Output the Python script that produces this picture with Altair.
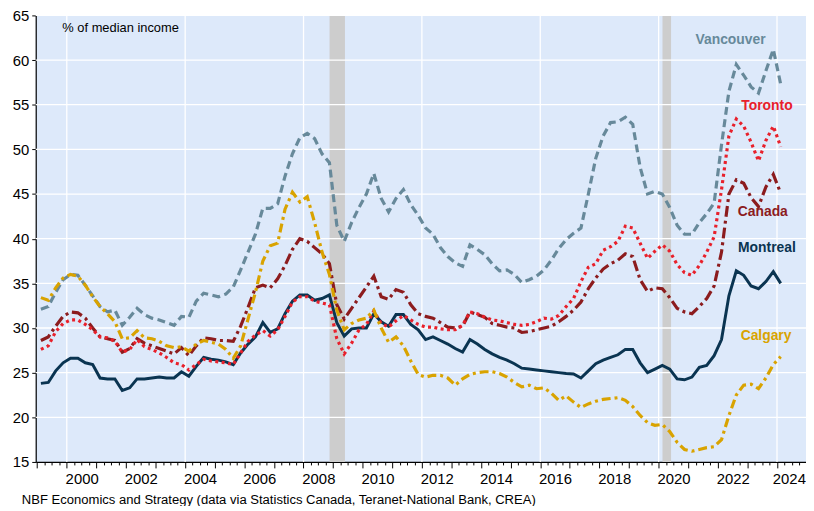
import altair as alt
import pandas as pd

# ---------------- data (quarterly, 1999Q1 .. 2024Q1, plotted at mid-quarter) ----------------
first_year = 1999.125
n_q = 101
quarters = [first_year + 0.25 * k for k in range(n_q)]

vancouver = [32.1, 32.4, 34.0, 35.4, 36.0, 35.9, 34.8, 33.6, 32.4, 31.8,
             32.0, 30.3, 31.2, 32.2, 31.5, 31.1, 30.9, 30.6, 30.3, 31.3,
             31.2, 33.0, 33.9, 33.7, 33.5, 33.8, 34.6, 36.5, 38.5, 40.5,
             43.4, 43.4, 43.9, 47.0, 49.5, 51.3, 51.8, 51.2, 49.5, 48.5,
             41.5, 39.7, 41.8, 43.5, 45.0, 47.3, 44.5, 43.0, 44.5, 45.5,
             43.8, 42.6, 41.2, 40.5, 39.0, 38.0, 37.3, 36.9, 39.3, 38.8,
             38.2, 37.2, 36.4, 36.5, 36.0, 35.1, 35.4, 35.8, 36.5, 37.6,
             38.9, 39.9, 40.6, 41.2, 45.0, 49.0, 51.5, 53.0, 53.1, 53.6,
             52.8, 48.0, 45.0, 45.3, 45.0, 43.5, 41.5, 40.5, 40.5, 41.8,
             42.8, 44.0, 50.5, 56.5, 59.5, 58.3, 57.0, 56.3, 58.8, 61.2,
             57.3]

toronto = [27.6, 28.0, 29.6, 30.5, 30.9, 30.9, 30.4, 29.8, 29.0, 28.9,
           28.5, 27.3, 27.6, 28.7, 27.9, 27.6, 27.2, 26.7, 26.1, 25.9,
           25.3, 25.9, 26.5, 26.3, 26.2, 26.1, 25.9, 27.2, 28.5, 29.2,
           29.7, 29.1, 29.8, 31.3, 32.9, 33.5, 33.5, 33.0, 32.8, 32.6,
           28.8, 27.1, 28.3, 29.8, 30.4, 31.9, 30.5, 30.1, 30.8, 31.4,
           30.9, 30.4, 30.1, 30.1, 29.9, 29.8, 29.8, 30.3, 31.8, 31.6,
           31.2, 30.9, 30.8, 30.6, 30.4, 30.3, 30.4, 30.7, 31.1, 31.0,
           31.4, 32.4, 33.3, 35.2, 36.8, 37.2, 38.7, 39.1, 39.7, 41.4,
           41.2, 39.5, 37.8, 38.6, 39.3, 38.6, 37.1, 36.2, 35.9, 37.0,
           38.5, 40.2, 45.5, 51.5, 53.4, 52.6, 50.8, 48.7, 51.0, 52.6,
           50.3]

canada = [28.6, 29.0, 30.2, 31.3, 31.8, 31.7, 31.1, 30.0, 29.0, 28.8,
          28.6, 27.3, 27.7, 28.8, 28.3, 28.0, 27.7, 27.4, 27.1, 27.8,
          26.9, 28.0, 28.9, 28.8, 28.6, 28.6, 28.5, 30.2, 32.3, 34.5,
          34.8, 34.5, 35.5, 37.0, 38.8, 40.0, 39.7, 39.0, 38.3, 37.2,
          32.6, 31.0, 32.2, 33.4, 34.6, 35.8, 33.5, 33.2, 34.3, 34.0,
          32.6, 31.6, 31.3, 31.1, 30.6, 30.1, 30.0, 30.2, 31.8, 31.5,
          31.2, 30.5, 30.3, 30.1, 30.0, 29.5, 29.6, 29.8, 30.0, 30.2,
          30.7, 31.3, 32.0, 32.9, 34.4, 35.6, 36.6, 37.2, 37.6, 38.3,
          38.0, 35.4, 34.1, 34.5, 34.4, 33.4, 32.2, 31.8, 31.6, 32.4,
          33.3, 34.7, 38.5, 45.0, 46.6, 46.2, 44.6, 43.6, 45.8, 47.2,
          45.1]

montreal = [23.8, 23.9, 25.2, 26.1, 26.6, 26.6, 26.1, 25.9, 24.4, 24.3,
            24.3, 23.0, 23.3, 24.3, 24.3, 24.4, 24.5, 24.4, 24.4, 25.1,
            24.6, 25.7, 26.7, 26.5, 26.4, 26.2, 25.9, 27.2, 28.2, 29.0,
            30.6, 29.5, 29.9, 31.6, 33.0, 33.7, 33.7, 33.1, 33.3, 33.7,
            30.6, 29.1, 29.9, 30.0, 30.0, 31.6, 30.7, 30.2, 31.5, 31.5,
            30.4, 29.8, 28.7, 29.0, 28.6, 28.2, 27.7, 27.3, 28.7, 28.2,
            27.6, 27.1, 26.7, 26.4, 26.0, 25.5, 25.4, 25.3, 25.2, 25.1,
            25.0, 24.9, 24.85, 24.4, 25.2, 26.0, 26.4, 26.7, 27.0, 27.6,
            27.6, 26.1, 25.0, 25.4, 25.8, 25.4, 24.3, 24.2, 24.5, 25.6,
            25.8, 26.9, 28.7, 33.6, 36.4, 35.9, 34.7, 34.4, 35.2, 36.3,
            35.0]

calgary = [33.4, 33.1, 34.5, 35.6, 36.0, 35.8, 34.8, 33.5, 32.4, 31.6,
           30.7, 28.8, 28.9, 29.7, 28.9, 28.8, 28.5, 28.0, 27.8, 27.9,
           27.4, 28.2, 28.6, 28.4, 28.2, 27.6, 26.6, 28.0, 31.0, 34.0,
           37.5, 39.2, 39.5, 43.3, 45.2, 44.1, 44.7, 41.8, 38.5, 36.0,
           32.0, 29.8, 30.5, 30.9, 31.1, 32.0, 30.0, 28.4, 29.0, 28.0,
           26.3, 24.8, 24.5, 24.7, 24.7, 24.4, 23.6, 24.3, 24.8, 25.0,
           25.1, 25.1, 24.9, 24.5, 23.9, 23.4, 23.6, 23.2, 23.3, 22.7,
           21.9, 22.4, 21.7, 21.1, 21.5, 21.8, 22.0, 22.1, 22.2, 21.9,
           21.2, 20.2, 19.4, 19.1, 19.2, 18.4, 17.2, 16.4, 16.2, 16.4,
           16.6, 16.7, 17.5, 20.2, 22.5, 23.6, 23.7, 23.2, 24.4, 25.9,
           26.8]

# recession shading
rec_start = [2008.88, 2020.13]
rec_end = [2009.40, 2020.42]

# axis ticks / grid
y_ticks = [15, 20, 25, 30, 35, 40, 45, 50, 55, 60, 65]
y_grid = [20, 25, 30, 35, 40, 45, 50, 55, 60, 65]
x_grid = [2000, 2004, 2008, 2012, 2016, 2020, 2024]
x_ticks = [1999 + 0.25 * i for i in range(104)]

# series labels
label_names = ["Vancouver", "Toronto", "Canada", "Montreal", "Calgary"]
label_t = [2022.43, 2023.66, 2023.52, 2023.66, 2023.63]
label_v = [62.2, 54.9, 43.0, 38.9, 29.05]

annotation = "% of median income"
annotation_t = 1999.85
annotation_v = 63.6
footer = "NBF Economics and Strategy (data via Statistics Canada, Teranet-National Bank, CREA)"

# ---------------- styling ----------------
FONT = "Liberation Sans"
colors = {
    "Vancouver": "#67899a",
    "Toronto": "#e8202b",
    "Canada": "#8c1c1e",
    "Montreal": "#0a3451",
    "Calgary": "#d9a300",
}
dashes = {
    "Vancouver": [8, 4.5],
    "Toronto": [3, 3.5],
    "Canada": [11, 4, 3, 4],
    "Montreal": None,
    "Calgary": [9, 4, 3, 4],
}
series_values = {
    "Vancouver": vancouver,
    "Toronto": toronto,
    "Canada": canada,
    "Montreal": montreal,
    "Calgary": calgary,
}

rows = []
for name, vals in series_values.items():
    for t, v in zip(quarters, vals):
        rows.append({"t": t, "value": v, "series": name})
df = pd.DataFrame(rows)

xscale = alt.Scale(domain=[1998.95, 2024.98], nice=False, zero=False)
yscale = alt.Scale(domain=[15, 65], nice=False, zero=False)

x_axis = alt.Axis(
    values=x_ticks,
    tickSize={"condition": {"test": "datum.value % 1 === 0", "value": 6}, "value": 3},
    labelExpr="datum.value % 2 === 0 ? format(datum.value, 'd') : ''",
    labelOffset={"condition": {"test": "datum.value === 2024", "value": 12}, "value": 15},
    labelFont=FONT,
    labelFontSize=15,
    labelColor="black",
    labelPadding=4,
    labelOverlap=False,
    labelFlush=False,
    labelBound=False,
    domainColor="black",
    domainWidth=1.2,
    tickColor="black",
    tickWidth=1,
    grid=False,
    title=None,
)
y_axis = alt.Axis(
    values=y_ticks,
    tickSize=4,
    labelFont=FONT,
    labelFontSize=15,
    labelColor="black",
    labelPadding=3,
    domainColor="black",
    domainWidth=1.2,
    tickColor="black",
    grid=False,
    title=None,
)


def X(field):
    return alt.X(field, scale=xscale, axis=x_axis)


def Y(field):
    return alt.Y(field, scale=yscale, axis=y_axis)


# recession bars
rec_df = pd.DataFrame({"start": rec_start, "end": rec_end})
rec = alt.Chart(rec_df).mark_rect(color="#cdcdcd").encode(
    x=X("start:Q"),
    x2="end:Q",
    y=alt.value(0),
    y2=alt.value(451),
)

hgrid = alt.Chart(pd.DataFrame({"g": y_grid})).mark_rule(color="white", strokeWidth=1.3).encode(
    y=Y("g:Q")
)
vgrid = alt.Chart(pd.DataFrame({"g": x_grid})).mark_rule(color="white", strokeWidth=1.3).encode(
    x=X("g:Q")
)

draw_order = ["Vancouver", "Montreal", "Canada", "Toronto", "Calgary"]
line_layers = []
for name in draw_order:
    kwargs = dict(color=colors[name], strokeWidth=3.2 if name != "Montreal" else 3.0)
    if dashes[name] is not None:
        kwargs["strokeDash"] = dashes[name]
    layer = (
        alt.Chart(df)
        .transform_filter(alt.datum.series == name)
        .mark_line(**kwargs)
        .encode(x=X("t:Q"), y=Y("value:Q"), order="t:Q")
    )
    line_layers.append(layer)

lab_df = pd.DataFrame({"name": label_names, "t": label_t, "v": label_v})
labels = alt.Chart(lab_df).mark_text(
    font=FONT, fontSize=14, fontWeight="bold", align="center", baseline="middle"
).encode(
    x=X("t:Q"),
    y=Y("v:Q"),
    text="name:N",
    color=alt.Color(
        "name:N",
        scale=alt.Scale(domain=label_names, range=[colors[n] for n in label_names]),
        legend=None,
    ),
)

ann = alt.Chart(pd.DataFrame({"txt": [annotation], "t": [annotation_t], "v": [annotation_v]})).mark_text(
    font=FONT, fontSize=13, align="left", baseline="middle", color="black"
).encode(
    x=X("t:Q"),
    y=Y("v:Q"),
    text="txt:N",
)

foot = alt.Chart(pd.DataFrame({"txt": [footer]})).mark_text(
    font=FONT, fontSize=13.2, align="left", baseline="middle", color="black"
).encode(
    x=alt.value(-14),
    y=alt.value(489),
    text="txt:N",
)

chart = (
    alt.layer(rec, hgrid, vgrid, *line_layers, labels, ann, foot)
    .properties(
        width=778,
        height=451,
        padding={"left": 28, "top": 5, "right": 0, "bottom": 42},
        autosize=alt.AutoSizeParams(type="none"),
        background="white",
    )
    .configure_view(fill="#dde9fa", stroke=None)
)

chart.save("out.html", embed_options={"renderer": "svg", "actions": False})
